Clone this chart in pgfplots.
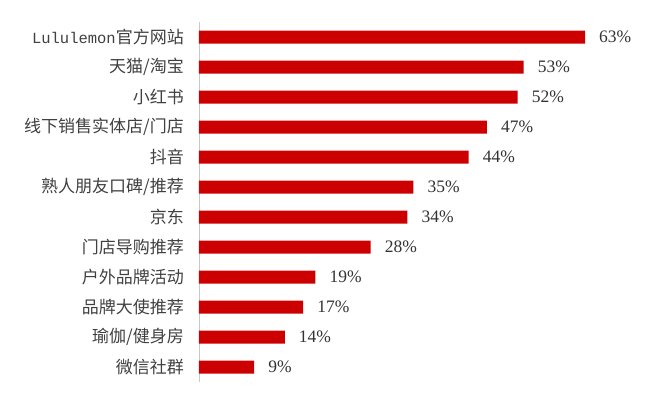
\documentclass[border=0pt]{standalone}
\usepackage{fontspec}
\usepackage{pgfplots}
\pgfplotsset{compat=1.18}
\setmainfont{Liberation Serif}
\newfontfamily\cjk{Noto Sans CJK SC}
\newfontfamily\mono{Liberation Mono}
\definecolor{barred}{HTML}{CC0000}
\definecolor{axisgray}{HTML}{C8C8C8}
\definecolor{labelgray}{HTML}{404040}

\begin{document}
\begin{tikzpicture}
  \useasboundingbox (-199pt,-23pt) rectangle (451pt,382pt);
  \begin{axis}[
      scale only axis,
      width=428.9pt,
      height=360pt,
      xbar,
      bar width=13pt,
      xmin=0, xmax=70,
      ymin=-0.5, ymax=11.5,
      y dir=reverse,
      axis x line=none,
      axis y line*=left,
      y axis line style={draw=axisgray, line width=0.8pt, -},
      ytick={0,...,11},
      major tick length=0pt,
      yticklabels={{\mono\fontsize{15.5}{18}\selectfont Lululemon}官方网站, 天猫/淘宝, 小红书, 线下销售实体店/门店,
        抖音, 熟人朋友口碑/推荐, 京东, 门店导购推荐, 户外品牌活动,
        品牌大使推荐, 瑜伽/健身房, 微信社群},
      yticklabel style={font=\cjk\fontsize{17}{19}\selectfont, text=labelgray,
        anchor=east, inner sep=0pt, xshift=-15pt},
      point meta=x,
      nodes near coords={\pgfmathprintnumber[assume math mode=true]{\pgfplotspointmeta}\%},
      nodes near coords style={font=\fontsize{17.5}{19}\selectfont, text=black!80,
        anchor=west, inner sep=0pt, xshift=14pt},
      clip=false,
    ]
    \addplot[draw=none, fill=barred] coordinates {
      (63,0) (53,1) (52,2) (47,3) (44,4) (35,5)
      (34,6) (28,7) (19,8) (17,9) (14,10) (9,11)
    };
  \end{axis}
\end{tikzpicture}
\end{document}
